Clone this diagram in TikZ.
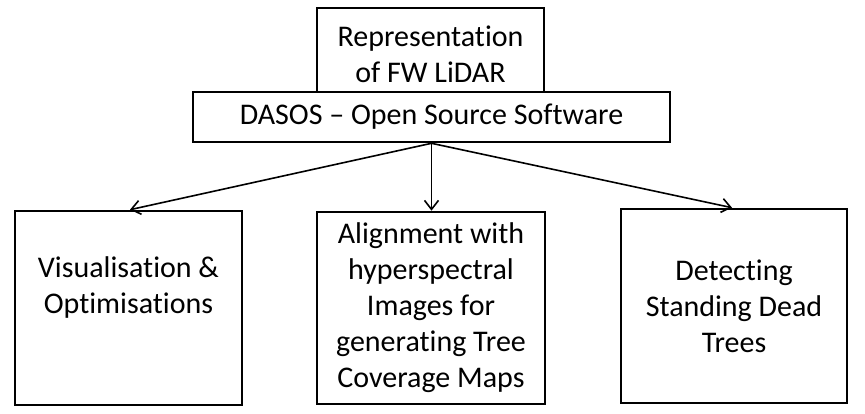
\documentclass[tikz,border=0pt]{standalone}
\usepackage{fontspec}
\setmainfont{Carlito}[Ligatures=NoCommon]
\usetikzlibrary{arrows.meta}
\begin{document}
\begin{tikzpicture}[x=1pt,y=-1pt,
  box/.style={draw=black, fill=white, line width=2.6pt, inner sep=0pt, align=center,
    font=\fontsize{30}{36}\selectfont},
  conn/.style={line width=1.6pt, -{Straight Barb[length=9pt,width=14pt,line width=1.6pt]}}]
\useasboundingbox (0,0) rectangle (865,414);
\node[box, minimum width=227pt, minimum height=92pt] (top) at (430.5,54) {Representation\\of FW LiDAR};
\node[box, minimum width=477pt, minimum height=50pt] (dasos) at (431.5,117) {DASOS -- Open Source Software};
\node[box, minimum width=227pt, minimum height=194pt] (lbox) at (128.5,308) {Visualisation \&\\Optimisations\\\strut};
\node[box, minimum width=228pt, minimum height=192pt] (mbox) at (431,308) {Alignment with\\hyperspectral\\Images for\\generating Tree\\Coverage Maps};
\node[box, minimum width=226pt, minimum height=194pt] (rbox) at (734,306) {Detecting\\Standing Dead\\Trees};
\draw[conn] (dasos.south) -- ([xshift=1.5pt]lbox.north);
\draw[conn] (dasos.south) -- ([xshift=0.5pt]mbox.north);
\draw[conn] (dasos.south) -- ([xshift=-2pt]rbox.north);
\end{tikzpicture}
\end{document}
